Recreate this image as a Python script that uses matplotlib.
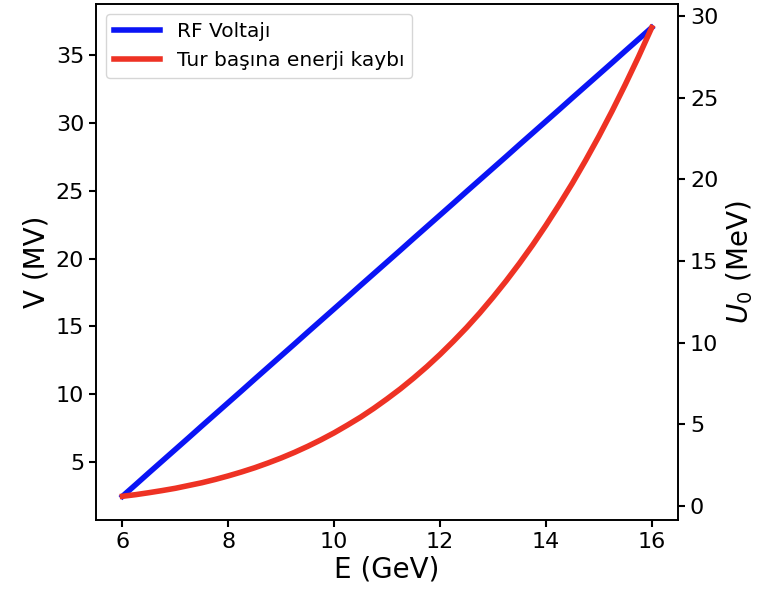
import matplotlib
matplotlib.use('Agg')
import matplotlib.pyplot as plt

# values
energy = [6, 6.25, 6.5, 6.75, 7, 7.25, 7.5, 7.75, 8, 8.25, 8.5, 8.75,
          9, 9.25, 9.5, 9.75, 10, 10.25, 10.5, 10.75, 11, 11.25, 11.5, 11.75,
          12, 12.25, 12.5, 12.75, 13, 13.25, 13.5, 13.75, 14, 14.25, 14.5, 14.75,
          15, 15.25, 15.5, 15.75, 16]
rf_voltage = [2.5, 3.36, 4.23, 5.09, 5.95, 6.81, 7.68, 8.54, 9.4, 10.26, 11.13, 11.99,
              12.85, 13.71, 14.58, 15.44, 16.3, 17.16, 18.03, 18.89, 19.75, 20.61, 21.48, 22.34,
              23.2, 24.06, 24.93, 25.79, 26.65, 27.51, 28.38, 29.24, 30.1, 30.96, 31.83, 32.69,
              33.55, 34.41, 35.28, 36.14, 37.0]
energy_loss = [0.58, 0.68, 0.80, 0.93, 1.07, 1.24, 1.41, 1.61, 1.83, 2.07, 2.33, 2.62,
               2.93, 3.27, 3.64, 4.04, 4.47, 4.94, 5.43, 5.97, 6.55, 7.16, 7.82, 8.52,
               9.27, 10.07, 10.91, 11.81, 12.77, 13.78, 14.85, 15.98, 17.18, 18.44, 19.76, 21.16,
               22.63, 24.18, 25.81, 27.51, 29.3]

fig, ax1 = plt.subplots(figsize=(7.62, 5.96), dpi=100)
fig.subplots_adjust(left=0.126, right=0.890, top=0.993, bottom=0.128)
ax2 = ax1.twinx()

l1, = ax1.plot(energy, rf_voltage, color='#0a14f5', linewidth=4, label='RF Voltajı')
l2, = ax2.plot(energy, energy_loss, color='#ee3224', linewidth=4, label='Tur başına enerji kaybı',
               solid_joinstyle='round')

ax1.set_xlabel('E (GeV)', fontsize=20, labelpad=3)
ax1.set_ylabel('V (MV)', fontsize=20)
ax2.set_ylabel('$U_0$ (MeV)', fontsize=20)
ax1.set_xticks([6, 8, 10, 12, 14, 16])
ax1.set_yticks([5, 10, 15, 20, 25, 30, 35])
ax2.set_yticks([0, 5, 10, 15, 20, 25, 30])
for ax in (ax1, ax2):
    ax.tick_params(labelsize=16, width=1.5, length=5)
    for s in ax.spines.values():
        s.set_linewidth(1.2)

ax2.legend([l1, l2], [l1.get_label(), l2.get_label()], loc='upper left', fontsize=14.5,
           handlelength=2.3)

fig.savefig('out.png')
